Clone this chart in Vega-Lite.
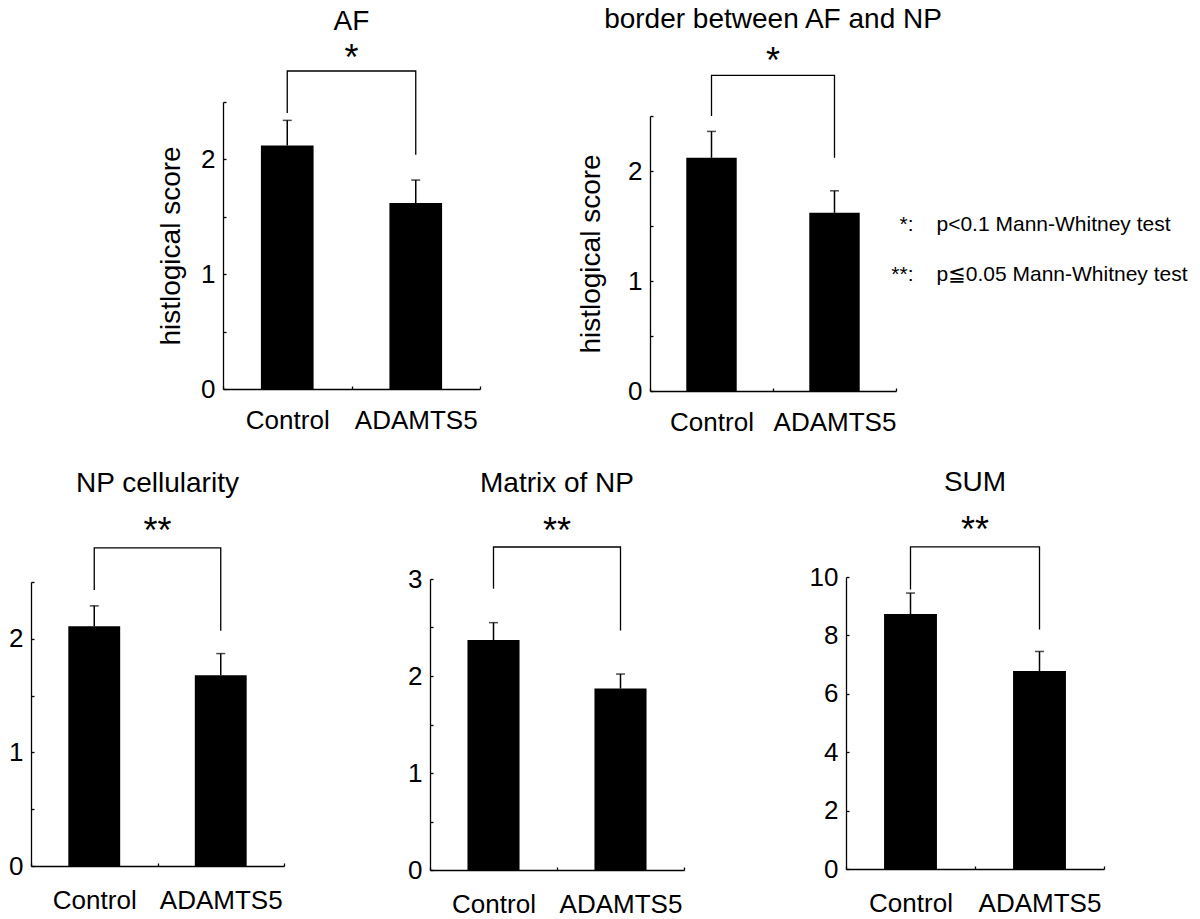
{
"$schema":"https://vega.github.io/schema/vega-lite/v6.json",
"background":"white",
"padding":{"left":8,"top":5,"right":0,"bottom":0},
"datasets":{
"bars":[
{"panel":"AF","group":"Control","mean":2.12,"upper":2.34},
{"panel":"AF","group":"ADAMTS5","mean":1.62,"upper":1.82},
{"panel":"border","group":"Control","mean":2.12,"upper":2.36},
{"panel":"border","group":"ADAMTS5","mean":1.62,"upper":1.82},
{"panel":"NP","group":"Control","mean":2.11,"upper":2.29},
{"panel":"NP","group":"ADAMTS5","mean":1.68,"upper":1.87},
{"panel":"Matrix","group":"Control","mean":2.37,"upper":2.55},
{"panel":"Matrix","group":"ADAMTS5","mean":1.87,"upper":2.02},
{"panel":"SUM","group":"Control","mean":8.73,"upper":9.45},
{"panel":"SUM","group":"ADAMTS5","mean":6.78,"upper":7.45}
],
"brackets":[
{"panel":"AF","group":"Control","step":1,"y":2.405},
{"panel":"AF","group":"Control","step":2,"y":2.77},
{"panel":"AF","group":"ADAMTS5","step":3,"y":2.77},
{"panel":"AF","group":"ADAMTS5","step":4,"y":2.04},
{"panel":"border","group":"Control","step":1,"y":2.50},
{"panel":"border","group":"Control","step":2,"y":2.87},
{"panel":"border","group":"ADAMTS5","step":3,"y":2.87},
{"panel":"border","group":"ADAMTS5","step":4,"y":2.12},
{"panel":"NP","group":"Control","step":1,"y":2.43},
{"panel":"NP","group":"Control","step":2,"y":2.80},
{"panel":"NP","group":"ADAMTS5","step":3,"y":2.80},
{"panel":"NP","group":"ADAMTS5","step":4,"y":2.07},
{"panel":"Matrix","group":"Control","step":1,"y":2.90},
{"panel":"Matrix","group":"Control","step":2,"y":3.33},
{"panel":"Matrix","group":"ADAMTS5","step":3,"y":3.33},
{"panel":"Matrix","group":"ADAMTS5","step":4,"y":2.47},
{"panel":"SUM","group":"Control","step":1,"y":9.57},
{"panel":"SUM","group":"Control","step":2,"y":11.03},
{"panel":"SUM","group":"ADAMTS5","step":3,"y":11.03},
{"panel":"SUM","group":"ADAMTS5","step":4,"y":8.20}
],
"stars":[
{"panel":"AF","star":"*","y":2.92},
{"panel":"border","star":"*","y":3.04},
{"panel":"NP","star":"**","y":2.98},
{"panel":"Matrix","star":"**","y":3.54},
{"panel":"SUM","star":"**","y":11.73}
],
"legend":[
{"line":"1","key":"*:","desc":"p<0.1 Mann-Whitney test"},
{"line":"2","key":"**:","desc":"p≦0.05 Mann-Whitney test"}
]
},
"spacing":34,
"vconcat":[
{"hconcat":[
{"width":192,"height":10,"data":{"values":[{"s":""}]},"mark":"text","encoding":{"text":{"field":"s"}}},
{"width":257,"height":287,"title":{"text":"AF","offset":5},
"layer":[
{"data":{"name":"bars"},"transform":[{"filter":"datum.panel == 'AF'"}],"mark":{"type":"bar","color":"black","width":{"band":0.41}},
"encoding":{"x":{"field":"group","type":"nominal","sort":["Control","ADAMTS5"],"scale":{"paddingInner":0,"paddingOuter":0},"axis":{"title":null,"labelPadding":21}},
"y":{"field":"mean","type":"quantitative","title":"histlogical score","scale":{"domain":[0,2.5],"range":[287,0]},"axis":{"values":[0,0.5,1,1.5,2,2.5],"labelExpr":"datum.value % 1 == 0 ? format(datum.value, 'd') : ''","titlePadding":15}}}},
{"data":{"name":"bars"},"transform":[{"filter":"datum.panel == 'AF'"}],"mark":{"type":"rule","color":"black","strokeWidth":1.5},
"encoding":{"x":{"field":"group","type":"nominal","sort":["Control","ADAMTS5"]},"y":{"field":"mean","type":"quantitative","title":"histlogical score","scale":{"domain":[0,2.5],"range":[287,0]}},"y2":{"field":"upper"}}},
{"data":{"name":"bars"},"transform":[{"filter":"datum.panel == 'AF'"}],"mark":{"type":"tick","color":"black","orient":"horizontal","size":9,"thickness":1.5},
"encoding":{"x":{"field":"group","type":"nominal","sort":["Control","ADAMTS5"]},"y":{"field":"upper","type":"quantitative","title":"histlogical score","scale":{"domain":[0,2.5],"range":[287,0]}}}},
{"data":{"name":"brackets"},"transform":[{"filter":"datum.panel == 'AF'"}],"mark":{"type":"line","color":"black","strokeWidth":1.3},
"encoding":{"x":{"field":"group","type":"nominal","sort":["Control","ADAMTS5"]},"y":{"field":"y","type":"quantitative","title":"histlogical score","scale":{"domain":[0,2.5],"range":[287,0]}},"order":{"field":"step","type":"quantitative"}}},
{"data":{"name":"stars"},"transform":[{"filter":"datum.panel == 'AF'"}],"mark":{"type":"text","fontSize":36,"baseline":"middle","dy":5,"color":"black","font":"Liberation Sans"},
"encoding":{"y":{"field":"y","type":"quantitative","title":"histlogical score","scale":{"domain":[0,2.5],"range":[287,0]}},"text":{"field":"star"}}}
]},
{"width":170,"height":10,"data":{"values":[{"s":""}]},"mark":"text","encoding":{"text":{"field":"s"}}},
{"width":246,"height":289,"title":{"text":"border between AF and NP","offset":10},
"layer":[
{"data":{"name":"bars"},"transform":[{"filter":"datum.panel == 'border'"}],"mark":{"type":"bar","color":"black","width":{"band":0.41}},
"encoding":{"x":{"field":"group","type":"nominal","sort":["Control","ADAMTS5"],"scale":{"paddingInner":0,"paddingOuter":0},"axis":{"title":null,"labelPadding":21}},
"y":{"field":"mean","type":"quantitative","title":"histlogical score","scale":{"domain":[0,2.5],"range":[289,14]},"axis":{"values":[0,0.5,1,1.5,2,2.5],"labelExpr":"datum.value % 1 == 0 ? format(datum.value, 'd') : ''","titlePadding":22}}}},
{"data":{"name":"bars"},"transform":[{"filter":"datum.panel == 'border'"}],"mark":{"type":"rule","color":"black","strokeWidth":1.5},
"encoding":{"x":{"field":"group","type":"nominal","sort":["Control","ADAMTS5"]},"y":{"field":"mean","type":"quantitative","title":"histlogical score","scale":{"domain":[0,2.5],"range":[289,14]}},"y2":{"field":"upper"}}},
{"data":{"name":"bars"},"transform":[{"filter":"datum.panel == 'border'"}],"mark":{"type":"tick","color":"black","orient":"horizontal","size":9,"thickness":1.5},
"encoding":{"x":{"field":"group","type":"nominal","sort":["Control","ADAMTS5"]},"y":{"field":"upper","type":"quantitative","title":"histlogical score","scale":{"domain":[0,2.5],"range":[289,14]}}}},
{"data":{"name":"brackets"},"transform":[{"filter":"datum.panel == 'border'"}],"mark":{"type":"line","color":"black","strokeWidth":1.3},
"encoding":{"x":{"field":"group","type":"nominal","sort":["Control","ADAMTS5"]},"y":{"field":"y","type":"quantitative","title":"histlogical score","scale":{"domain":[0,2.5],"range":[289,14]}},"order":{"field":"step","type":"quantitative"}}},
{"data":{"name":"stars"},"transform":[{"filter":"datum.panel == 'border'"}],"mark":{"type":"text","fontSize":36,"baseline":"middle","dy":5,"color":"black","font":"Liberation Sans"},
"encoding":{"y":{"field":"y","type":"quantitative","title":"histlogical score","scale":{"domain":[0,2.5],"range":[289,14]}},"text":{"field":"star"}}}
]},
{"width":35,"height":293,"data":{"name":"legend"},
"layer":[
{"mark":{"type":"text","align":"right","baseline":"middle","fontSize":21,"color":"black","font":"Liberation Sans, DejaVu Sans"},
"encoding":{"y":{"field":"line","type":"ordinal","scale":{"type":"point","range":[123,173],"padding":0},"axis":null},"text":{"field":"key"}}},
{"mark":{"type":"text","align":"left","baseline":"middle","fontSize":21,"dx":23,"color":"black","font":"Liberation Sans, DejaVu Sans"},
"encoding":{"y":{"field":"line","type":"ordinal","scale":{"type":"point","range":[123,173],"padding":0},"axis":null},"text":{"field":"desc"}}}
]}
],"spacing":0,"bounds":"flush"},
{"hconcat":[
{"width":253,"height":289,"title":{"text":"NP cellularity","offset":16},
"layer":[
{"data":{"name":"bars"},"transform":[{"filter":"datum.panel == 'NP'"}],"mark":{"type":"bar","color":"black","width":{"band":0.41}},
"encoding":{"x":{"field":"group","type":"nominal","sort":["Control","ADAMTS5"],"scale":{"paddingInner":0,"paddingOuter":0},"axis":{"title":null,"labelPadding":24}},
"y":{"field":"mean","type":"quantitative","title":null,"scale":{"domain":[0,2.5],"range":[289,5]},"axis":{"values":[0,0.5,1,1.5,2,2.5],"labelExpr":"datum.value % 1 == 0 ? format(datum.value, 'd') : ''"}}}},
{"data":{"name":"bars"},"transform":[{"filter":"datum.panel == 'NP'"}],"mark":{"type":"rule","color":"black","strokeWidth":1.5},
"encoding":{"x":{"field":"group","type":"nominal","sort":["Control","ADAMTS5"]},"y":{"field":"mean","type":"quantitative","title":null,"scale":{"domain":[0,2.5],"range":[289,5]}},"y2":{"field":"upper"}}},
{"data":{"name":"bars"},"transform":[{"filter":"datum.panel == 'NP'"}],"mark":{"type":"tick","color":"black","orient":"horizontal","size":9,"thickness":1.5},
"encoding":{"x":{"field":"group","type":"nominal","sort":["Control","ADAMTS5"]},"y":{"field":"upper","type":"quantitative","title":null,"scale":{"domain":[0,2.5],"range":[289,5]}}}},
{"data":{"name":"brackets"},"transform":[{"filter":"datum.panel == 'NP'"}],"mark":{"type":"line","color":"black","strokeWidth":1.3},
"encoding":{"x":{"field":"group","type":"nominal","sort":["Control","ADAMTS5"]},"y":{"field":"y","type":"quantitative","title":null,"scale":{"domain":[0,2.5],"range":[289,5]}},"order":{"field":"step","type":"quantitative"}}},
{"data":{"name":"stars"},"transform":[{"filter":"datum.panel == 'NP'"}],"mark":{"type":"text","fontSize":36,"baseline":"middle","dy":5,"color":"black","font":"Liberation Sans"},
"encoding":{"y":{"field":"y","type":"quantitative","title":null,"scale":{"domain":[0,2.5],"range":[289,5]}},"text":{"field":"star"}}}
]},
{"width":146,"height":10,"data":{"values":[{"s":""}]},"mark":"text","encoding":{"text":{"field":"s"}}},
{"width":254,"height":293,"title":{"text":"Matrix of NP","offset":16},
"layer":[
{"data":{"name":"bars"},"transform":[{"filter":"datum.panel == 'Matrix'"}],"mark":{"type":"bar","color":"black","width":{"band":0.41}},
"encoding":{"x":{"field":"group","type":"nominal","sort":["Control","ADAMTS5"],"scale":{"paddingInner":0,"paddingOuter":0},"axis":{"title":null,"labelPadding":24}},
"y":{"field":"mean","type":"quantitative","title":null,"scale":{"domain":[0,3],"range":[293,2]},"axis":{"values":[0,0.5,1,1.5,2,2.5,3],"labelExpr":"datum.value % 1 == 0 ? format(datum.value, 'd') : ''"}}}},
{"data":{"name":"bars"},"transform":[{"filter":"datum.panel == 'Matrix'"}],"mark":{"type":"rule","color":"black","strokeWidth":1.5},
"encoding":{"x":{"field":"group","type":"nominal","sort":["Control","ADAMTS5"]},"y":{"field":"mean","type":"quantitative","title":null,"scale":{"domain":[0,3],"range":[293,2]}},"y2":{"field":"upper"}}},
{"data":{"name":"bars"},"transform":[{"filter":"datum.panel == 'Matrix'"}],"mark":{"type":"tick","color":"black","orient":"horizontal","size":9,"thickness":1.5},
"encoding":{"x":{"field":"group","type":"nominal","sort":["Control","ADAMTS5"]},"y":{"field":"upper","type":"quantitative","title":null,"scale":{"domain":[0,3],"range":[293,2]}}}},
{"data":{"name":"brackets"},"transform":[{"filter":"datum.panel == 'Matrix'"}],"mark":{"type":"line","color":"black","strokeWidth":1.3},
"encoding":{"x":{"field":"group","type":"nominal","sort":["Control","ADAMTS5"]},"y":{"field":"y","type":"quantitative","title":null,"scale":{"domain":[0,3],"range":[293,2]}},"order":{"field":"step","type":"quantitative"}}},
{"data":{"name":"stars"},"transform":[{"filter":"datum.panel == 'Matrix'"}],"mark":{"type":"text","fontSize":36,"baseline":"middle","dy":5,"color":"black","font":"Liberation Sans"},
"encoding":{"y":{"field":"y","type":"quantitative","title":null,"scale":{"domain":[0,3],"range":[293,2]}},"text":{"field":"star"}}}
]},
{"width":162,"height":10,"data":{"values":[{"s":""}]},"mark":"text","encoding":{"text":{"field":"s"}}},
{"width":258,"height":292,"title":{"text":"SUM","offset":16},
"layer":[
{"data":{"name":"bars"},"transform":[{"filter":"datum.panel == 'SUM'"}],"mark":{"type":"bar","color":"black","width":{"band":0.41}},
"encoding":{"x":{"field":"group","type":"nominal","sort":["Control","ADAMTS5"],"scale":{"paddingInner":0,"paddingOuter":0},"axis":{"title":null,"labelPadding":24}},
"y":{"field":"mean","type":"quantitative","title":null,"scale":{"domain":[0,10],"range":[292,0]},"axis":{"values":[0,2,4,6,8,10]}}}},
{"data":{"name":"bars"},"transform":[{"filter":"datum.panel == 'SUM'"}],"mark":{"type":"rule","color":"black","strokeWidth":1.5},
"encoding":{"x":{"field":"group","type":"nominal","sort":["Control","ADAMTS5"]},"y":{"field":"mean","type":"quantitative","title":null,"scale":{"domain":[0,10],"range":[292,0]}},"y2":{"field":"upper"}}},
{"data":{"name":"bars"},"transform":[{"filter":"datum.panel == 'SUM'"}],"mark":{"type":"tick","color":"black","orient":"horizontal","size":9,"thickness":1.5},
"encoding":{"x":{"field":"group","type":"nominal","sort":["Control","ADAMTS5"]},"y":{"field":"upper","type":"quantitative","title":null,"scale":{"domain":[0,10],"range":[292,0]}}}},
{"data":{"name":"brackets"},"transform":[{"filter":"datum.panel == 'SUM'"}],"mark":{"type":"line","color":"black","strokeWidth":1.3},
"encoding":{"x":{"field":"group","type":"nominal","sort":["Control","ADAMTS5"]},"y":{"field":"y","type":"quantitative","title":null,"scale":{"domain":[0,10],"range":[292,0]}},"order":{"field":"step","type":"quantitative"}}},
{"data":{"name":"stars"},"transform":[{"filter":"datum.panel == 'SUM'"}],"mark":{"type":"text","fontSize":36,"baseline":"middle","dy":5,"color":"black","font":"Liberation Sans"},
"encoding":{"y":{"field":"y","type":"quantitative","title":null,"scale":{"domain":[0,10],"range":[292,0]}},"text":{"field":"star"}}}
]}
],"spacing":0,"bounds":"flush"}
],
"config":{
"view":{"stroke":null},
"font":"Liberation Sans",
"axis":{"domainColor":"black","domainWidth":1.3,"tickColor":"black","tickWidth":1.3,"tickSize":-3,"grid":false,"labelFont":"Liberation Sans","labelFontSize":26,"labelColor":"black","titleFont":"Liberation Sans","titleFontSize":28,"titleFontWeight":"normal","titleColor":"black"},
"axisX":{"labelAngle":0,"tickBand":"extent"},
"axisY":{"labelPadding":11},
"title":{"font":"Liberation Sans","fontSize":28,"fontWeight":"normal","color":"black","frame":"group","anchor":"middle"}
}
}
